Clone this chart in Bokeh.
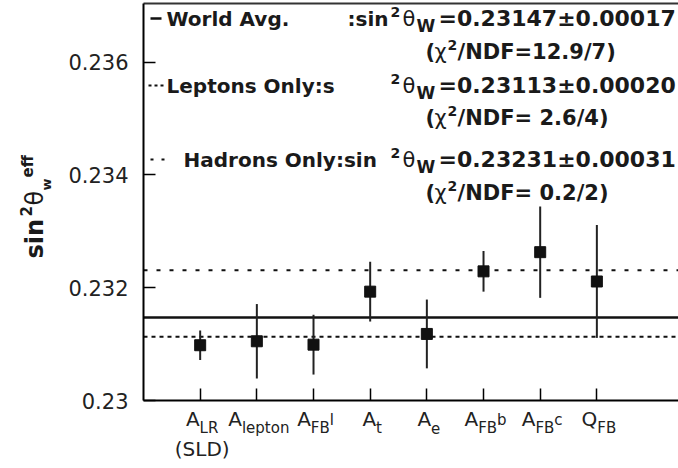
from bokeh.plotting import figure
from bokeh.models import Label, FixedTicker, Range1d, LinearAxis
from bokeh.embed import file_html
from bokeh.resources import INLINE

# ---------------- data ----------------
categories = ["A_LR (SLD)", "A_lepton", "A_FB^l", "A_t", "A_e", "A_FB^b", "A_FB^c", "Q_FB"]
cat_main = ["A", "A", "A", "A", "A", "A", "A", "Q"]
cat_sub = ["LR", "lepton", "FB", "t", "e", "FB", "FB", "FB"]
cat_sup = ["", "", "l", "", "", "b", "c", ""]
cat_note = ["(SLD)", "", "", "", "", "", "", ""]

sin2_values = [0.23098, 0.23105, 0.23099, 0.23193, 0.23118, 0.23229, 0.23263, 0.23211]
sin2_errors = [0.00026, 0.00066, 0.00053, 0.00053, 0.00061, 0.00036, 0.00081, 0.00100]

fit_names = ["World Avg.", "Leptons Only:s", "Hadrons Only:sin"]
fit_mid = [":sin", "", ""]
fit_values = [0.23147, 0.23113, 0.23231]
fit_errors = [0.00017, 0.00020, 0.00031]
fit_chi2 = ["12.9/7", " 2.6/4", " 0.2/2"]
fit_dash = ["solid", "4 4", "4 9"]
fit_sample_dash = ["solid", "3 3", "3 8"]

y_ticks = [0.230, 0.232, 0.234, 0.236]
y_tick_labels = ["0.23", "0.232", "0.234", "0.236"]

# ---------------- layout (canvas pixels) ----------------
W, H = 678, 468
AXIS_X_PX, AXIS_Y_PX, TOP_PX = 143, 400, 3
PX_PER_UNIT_X = 56.67
PX_PER_UNIT_Y = 56400.0
X_AX0 = 0.0
Y_AX0 = 0.23
X_START = X_AX0 - AXIS_X_PX / PX_PER_UNIT_X
X_END = X_AX0 + (W - AXIS_X_PX) / PX_PER_UNIT_X
Y_START = Y_AX0 - (H - AXIS_Y_PX) / PX_PER_UNIT_Y
Y_END = Y_AX0 + AXIS_Y_PX / PX_PER_UNIT_Y
MID = 0.37  # baseline -> visual middle, in em

FONT = "DejaVu Sans"
INK = "#1a1a1a"
GREY = "#222222"


def dx(px):
    return X_AX0 + (px - AXIS_X_PX) / PX_PER_UNIT_X


def dy(py):
    return Y_AX0 + (AXIS_Y_PX - py) / PX_PER_UNIT_Y


Y_TOP = dy(TOP_PX)

p = figure(width=W, height=H, output_backend="svg", toolbar_location=None,
           x_range=Range1d(X_START, X_END), y_range=Range1d(Y_START, Y_END),
           min_border_left=0, min_border_right=0, min_border_top=0, min_border_bottom=0)
p.xgrid.visible = False
p.ygrid.visible = False
p.outline_line_color = None
p.background_fill_color = "white"
p.border_fill_color = "white"

xs = list(range(1, len(categories) + 1))

# y axis drawn at x = 0 inside the frame
p.yaxis.fixed_location = X_AX0
p.yaxis.bounds = (Y_AX0, Y_TOP)
p.yaxis.ticker = FixedTicker(ticks=y_ticks)
p.yaxis.major_label_overrides = dict(zip(y_ticks, y_tick_labels))
p.yaxis.major_tick_in = 12
p.yaxis.major_tick_out = 0
p.yaxis.minor_tick_line_color = None
p.yaxis.major_label_text_font = FONT
p.yaxis.major_label_text_font_size = "21px"
p.yaxis.major_label_text_color = GREY
p.yaxis.major_label_standoff = 15
p.yaxis.axis_line_width = 2
p.yaxis.major_tick_line_width = 1.5

# x axis drawn at y = 0.23
p.xaxis.fixed_location = Y_AX0
p.xaxis.bounds = (X_AX0, X_END)
p.xaxis.ticker = FixedTicker(ticks=xs)
p.xaxis.major_label_overrides = {x: "" for x in xs}
p.xaxis.major_label_text_font_size = "0px"
p.xaxis.major_label_standoff = 0
p.xaxis.major_tick_in = 12
p.xaxis.major_tick_out = 0
p.xaxis.minor_tick_line_color = None
p.xaxis.axis_line_width = 2
p.xaxis.major_tick_line_width = 1.5

# top frame line
top = LinearAxis(fixed_location=Y_TOP, bounds=(X_AX0, X_END), ticker=FixedTicker(ticks=[]),
                 major_tick_line_color=None, minor_tick_line_color=None,
                 major_label_text_font_size="0px", axis_line_width=2, axis_line_color="#333333")
p.add_layout(top, "above")

# fit lines
for v, d in zip(fit_values, fit_dash):
    p.segment(x0=[X_AX0], y0=[v], x1=[X_END], y1=[v], line_color="#111111",
              line_width=2.5 if d == "solid" else 2, line_dash=d)

# measurements
lo = [v - e for v, e in zip(sin2_values, sin2_errors)]
hi = [v + e for v, e in zip(sin2_values, sin2_errors)]
p.segment(x0=xs, y0=lo, x1=xs, y1=hi, line_width=2, line_color=GREY)
p.scatter(x=xs, y=sin2_values, marker="square", size=11, color="#111111")


def label(x, y, text, size, bold=False, align="left", angle=0, color=INK):
    p.add_layout(Label(x=x, y=y, text=text, text_font=FONT,
                       text_font_size=f"{size}px",
                       text_font_style="bold" if bold else "normal",
                       text_align=align, text_baseline="middle",
                       angle=angle, angle_units="deg", text_color=color))


def lab(px, base, text, size, bold=False, align="left", color=INK):
    label(dx(px), dy(base - MID * size), text, size, bold=bold, align=align, color=color)


# ---- legend block ----
row_base = [26, 93, 167]
chi_base = [59, 125, 200]
sample_x = [(150, 161), (148, 163), (150, 165)]
name_x = [166, 166, 183]
for i in range(3):
    b = row_base[i]
    x0, x1 = sample_x[i]
    p.segment(x0=[dx(x0)], y0=[dy(b - 8)], x1=[dx(x1)], y1=[dy(b - 8)],
              line_width=2.5 if i == 0 else 2, line_color="#111111",
              line_dash=fit_sample_dash[i])
    lab(name_x[i], b, fit_names[i], 20, bold=True)
    if fit_mid[i]:
        lab(388, b, fit_mid[i], 20, bold=True, align="right")
    lab(390, b - 9, "2", 14, bold=True)
    lab(402, b, "θ", 21)
    lab(416, b + 6, "W", 17, bold=True)
    lab(438, b, f"={fit_values[i]:.5f}±{fit_errors[i]:.5f}", 22, bold=True)
    c = chi_base[i]
    lab(425, c, "(", 21, bold=True)
    lab(434, c, "χ", 21)
    lab(447, c - 9, "2", 14, bold=True)
    lab(457, c, "/NDF=" + fit_chi2[i] + ")", 21, bold=True)

# ---- category labels under the x axis ----
W_REG = {"A": .684, "Q": .787, "L": .557, "R": .695, "l": .278, "e": .615, "p": .635,
         "t": .392, "o": .612, "n": .634, "F": .575, "B": .686, "b": .635, "c": .55}


def tw(s, size):
    return sum(W_REG.get(ch, .6) for ch in s) * size


for i, x in enumerate(xs):
    wm, ws, wu = tw(cat_main[i], 20), tw(cat_sub[i], 15), tw(cat_sup[i], 15)
    start = x + (2 - (wm + ws + wu) / 2) / PX_PER_UNIT_X
    label(start, dy(426 - MID * 20), cat_main[i], 20, color=GREY)
    label(start + wm / PX_PER_UNIT_X, dy(433 - MID * 15), cat_sub[i], 15, color=GREY)
    if cat_sup[i]:
        label(start + (wm + ws) / PX_PER_UNIT_X, dy(425 - MID * 15), cat_sup[i], 15, color=GREY)
    if cat_note[i]:
        label(x + 2 / PX_PER_UNIT_X, dy(456 - MID * 20), cat_note[i], 20, align="center", color=GREY)


# ---- rotated y-axis title ----
def vlab(base_px, start_py, text, size, bold=False):
    label(dx(base_px - MID * size), dy(start_py), text, size, bold=bold, angle=90)


vlab(43, 258, "sin", 24, bold=True)
vlab(31, 216, "2", 15, bold=True)
vlab(43, 205, "θ", 24)
vlab(51, 190, "w", 13, bold=True)
vlab(33, 177, "eff", 15, bold=True)

open("out.html", "w").write(file_html(p, INLINE))
